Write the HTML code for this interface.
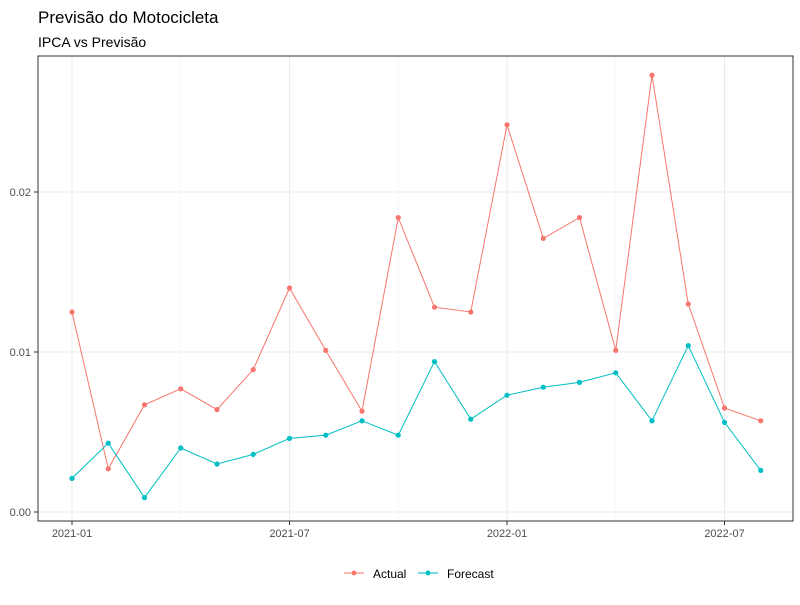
<!DOCTYPE html>
<html><head><meta charset="utf-8"><style>
body{margin:0;background:#fff;font-family:"Liberation Sans",Arial,sans-serif}
</style></head><body>
<svg id="chart" width="800" height="600" xmlns="http://www.w3.org/2000/svg" font-family="Liberation Sans, Arial, sans-serif">
<text x="38" y="23" font-size="17" fill="#000">Previsão do Motocicleta</text>
<text x="38" y="47" font-size="14" fill="#000">IPCA vs Previsão</text>
<g id="grid"></g><g id="marks"></g><g id="axes"></g>
<rect x="38" y="56" width="755" height="465" fill="none" stroke="#333" stroke-width="1"/>
<g>
<g><line x1="344" y1="573" x2="364" y2="573" stroke="#F8766D"/><circle cx="354" cy="573" r="2.5" fill="#F8766D"/><text x="373" y="578" font-size="12" fill="#000">Actual</text></g>
<g><line x1="418" y1="573" x2="438" y2="573" stroke="#00BFC4"/><circle cx="428" cy="573" r="2.5" fill="#00BFC4"/><text x="447" y="578" font-size="12" fill="#000">Forecast</text></g>
</g>
</svg>
<script>
const months = ["2021-01","2021-02","2021-03","2021-04","2021-05","2021-06","2021-07","2021-08","2021-09","2021-10","2021-11","2021-12","2022-01","2022-02","2022-03","2022-04","2022-05","2022-06","2022-07","2022-08"];
const actual = [0.0125,0.0027,0.0067,0.0077,0.0064,0.0089,0.0140,0.0101,0.0063,0.0184,0.0128,0.0125,0.0242,0.0171,0.0184,0.0101,0.0273,0.0130,0.0065,0.0057];
const forecast = [0.0021,0.0043,0.0009,0.0040,0.0030,0.0036,0.0046,0.0048,0.0057,0.0048,0.0094,0.0058,0.0073,0.0078,0.0081,0.0087,0.0057,0.0104,0.0056,0.0026];
const yTicks = [0,0.01,0.02];
const yTickLabels = ["0.00","0.01","0.02"];
const xTickIdx = [0,6,12,18];
const xTickLabels = ["2021-01","2021-07","2022-01","2022-07"];
const NS="http://www.w3.org/2000/svg";
const xs = i => 72 + i*36.25;
const ys = v => 512 - v*16000;
function mk(tag, attrs, parent){const e=document.createElementNS(NS,tag);for(const k in attrs)e.setAttribute(k,attrs[k]);parent.appendChild(e);return e;}
const grid=document.getElementById('grid'),marks=document.getElementById('marks'),axes=document.getElementById('axes');
[0.005,0.015,0.025].forEach(v=>{const l=mk('line',{x1:38,x2:793,y1:ys(v),y2:ys(v),stroke:'#f2f2f2','stroke-width':0.6},grid);

});
[3,9,15].forEach(i=>{const l=mk('line',{x1:xs(i),x2:xs(i),y1:56,y2:521,stroke:'#f2f2f2','stroke-width':0.6},grid);

});
yTicks.forEach((v,k)=>{const l=mk('line',{x1:38,x2:793,y1:ys(v),y2:ys(v),stroke:'#ebebeb','stroke-width':1.1},grid);


const t=mk('line',{x1:34,x2:38,y1:ys(v),y2:ys(v),stroke:'#333'},axes);


const tx=mk('text',{x:31,y:ys(v)+4,'font-size':11,fill:'#4d4d4d','text-anchor':'end'},axes);tx.textContent=yTickLabels[k];

});
xTickIdx.forEach((i,k)=>{const l=mk('line',{x1:xs(i),x2:xs(i),y1:56,y2:521,stroke:'#ebebeb','stroke-width':1.1},grid);


const t=mk('line',{x1:xs(i),x2:xs(i),y1:521,y2:525,stroke:'#333'},axes);


const tx=mk('text',{x:xs(i),y:537,'font-size':11,fill:'#4d4d4d','text-anchor':'middle'},axes);tx.textContent=xTickLabels[k];

});
function series(vals,color,name){
const p=mk('polyline',{points:vals.map((v,i)=>xs(i)+','+ys(v)).join(' '),fill:'none',stroke:color,'stroke-width':1},marks);


vals.forEach((v,i)=>{const c=mk('circle',{cx:xs(i),cy:ys(v),r:2.6,fill:color},marks);

});}
series(actual,'#F8766D','actual');
series(forecast,'#00BFC4','forecast');
</script>
</body></html>
